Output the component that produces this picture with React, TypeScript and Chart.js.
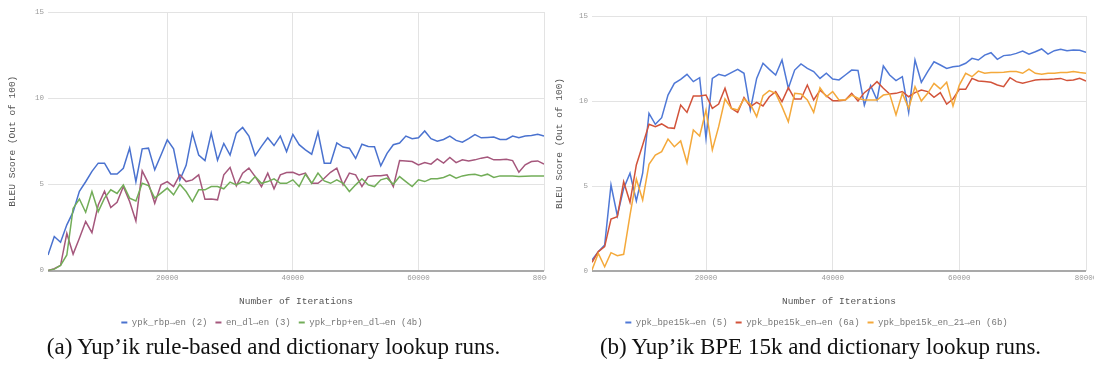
import React, { useEffect, useRef } from "react";
import { Chart, registerables } from "chart.js";

Chart.register(...registerables);

// ---------- DATA ----------
const leftIterations = [
  1000, 2000, 3000, 4000, 5000, 6000, 7000, 8000, 9000, 10000,
  11000, 12000, 13000, 14000, 15000, 16000, 17000, 18000, 19000, 20000,
  21000, 22000, 23000, 24000, 25000, 26000, 27000, 28000, 29000, 30000,
  31000, 32000, 33000, 34000, 35000, 36000, 37000, 38000, 39000, 40000,
  41000, 42000, 43000, 44000, 45000, 46000, 47000, 48000, 49000, 50000,
  51000, 52000, 53000, 54000, 55000, 56000, 57000, 58000, 59000, 60000,
  61000, 62000, 63000, 64000, 65000, 66000, 67000, 68000, 69000, 70000,
  71000, 72000, 73000, 74000, 75000, 76000, 77000, 78000, 79000, 80000,
];

const rbpEn = [
  0.9, 1.97, 1.64, 2.65, 3.4, 4.6, 5.15, 5.75, 6.23, 6.23,
  5.6, 5.6, 5.93, 7.1, 5.15, 7.06, 7.1, 5.84, 6.7, 7.58,
  7.06, 5.25, 6.1, 7.97, 6.7, 6.38, 7.97, 6.4, 7.37, 6.7,
  7.97, 8.3, 7.8, 6.67, 7.2, 7.7, 7.25, 7.8, 6.9, 7.9,
  7.3, 7.0, 6.75, 8.03, 6.23, 6.23, 7.4, 7.16, 7.1, 6.5,
  7.33, 7.2, 7.18, 6.07, 6.8, 7.3, 7.4, 7.8, 7.65, 7.7,
  8.1, 7.65, 7.5, 7.6, 7.8, 7.55, 7.45, 7.65, 7.88, 7.7,
  7.72, 7.74, 7.6, 7.6, 7.8, 7.7, 7.8, 7.84, 7.9, 7.8,
];

const enDlEn = [
  0, 0.1, 0.3, 2.15, 0.95, 1.87, 2.84, 2.2, 3.8, 4.6,
  3.65, 3.96, 4.87, 4.0, 2.87, 5.78, 5.06, 3.9, 4.97, 5.16,
  4.87, 5.55, 5.16, 5.26, 5.55, 4.13, 4.15, 4.1, 5.55, 5.98,
  4.91, 5.65, 5.94, 5.45, 4.87, 5.65, 4.74, 5.55, 5.68, 5.7,
  5.55, 5.65, 5.06, 5.06, 5.35, 5.7, 5.94, 4.97, 5.65, 5.55,
  4.87, 5.45, 5.5, 5.5, 5.55, 4.87, 6.38, 6.36, 6.32, 6.13,
  6.26, 6.17, 6.48, 6.23, 6.56, 6.26, 6.42, 6.36, 6.42, 6.52,
  6.58, 6.42, 6.42, 6.46, 6.38, 5.7, 6.13, 6.32, 6.36, 6.17,
];

const rbpDlEn = [
  0, 0.08, 0.3, 0.9, 3.6, 4.15, 3.38, 4.58, 3.42, 4.2,
  4.68, 4.47, 4.97, 4.2, 4.04, 5.06, 4.93, 4.2, 4.49, 4.78,
  4.39, 5.0, 4.58, 4.0, 4.68, 4.68, 4.87, 4.87, 4.74, 5.13,
  4.97, 5.16, 5.06, 5.45, 5.06, 5.16, 5.32, 5.06, 5.06, 5.26,
  4.87, 5.59, 5.06, 5.65, 5.2, 5.06, 5.26, 5.06, 4.58, 4.97,
  5.32, 4.97, 4.87, 5.26, 5.36, 5.0, 5.45, 5.16, 4.87, 5.26,
  5.16, 5.32, 5.32, 5.4, 5.55, 5.36, 5.49, 5.55, 5.59, 5.49,
  5.59, 5.4, 5.49, 5.49, 5.49, 5.45, 5.47, 5.49, 5.49, 5.49,
];

const rightIterations = [
  2000, 3000, 4000, 5000, 6000, 7000, 8000, 9000, 10000,
  11000, 12000, 13000, 14000, 15000, 16000, 17000, 18000, 19000, 20000,
  21000, 22000, 23000, 24000, 25000, 26000, 27000, 28000, 29000, 30000,
  31000, 32000, 33000, 34000, 35000, 36000, 37000, 38000, 39000, 40000,
  41000, 42000, 43000, 44000, 45000, 46000, 47000, 48000, 49000, 50000,
  51000, 52000, 53000, 54000, 55000, 56000, 57000, 58000, 59000, 60000,
  61000, 62000, 63000, 64000, 65000, 66000, 67000, 68000, 69000, 70000,
  71000, 72000, 73000, 74000, 75000, 76000, 77000, 78000, 79000, 80000,
];

const bpeEn = [
  0.65, 1.14, 1.53, 5.06, 3.25, 4.86, 5.75, 4.12, 5.75, 9.27,
  8.63, 9.02, 10.35, 11.04, 11.27, 11.57, 11.14, 11.37, 7.8, 11.33,
  11.57, 11.47, 11.67, 11.86, 11.63, 9.47, 11.33, 12.22, 11.86, 11.53,
  12.41, 10.75, 11.82, 12.18, 11.92, 11.73, 11.33, 11.63, 11.29, 11.24,
  11.53, 11.82, 11.8, 9.76, 10.9, 10.06, 12.06, 11.53, 11.2, 11.43,
  9.33, 12.41, 11.1, 11.73, 12.31, 12.12, 11.92, 12.02, 12.06, 12.22,
  12.51, 12.41, 12.7, 12.84, 12.45, 12.67, 12.7, 12.8, 12.94, 12.75,
  12.9, 13.06, 12.76, 12.96, 13.04, 12.96, 13.0, 12.98, 12.86,
];

const bpeEnEn = [
  0.51, 1.14, 1.43, 3.06, 3.2, 5.25, 4.04, 6.24, 7.41, 8.63,
  8.49, 8.65, 8.43, 8.39, 9.76, 9.33, 10.29, 10.29, 10.35, 9.57,
  9.82, 10.75, 9.57, 9.33, 10.2, 9.67, 9.92, 9.71, 10.25, 10.55,
  9.96, 10.78, 10.12, 10.12, 10.94, 10.06, 10.63, 10.31, 10.02, 10.02,
  10.06, 10.45, 10.0, 10.49, 10.78, 11.14, 10.75, 10.41, 10.45, 10.55,
  10.25, 10.49, 10.65, 10.55, 10.22, 10.49, 9.82, 10.12, 10.69, 10.69,
  11.33, 11.18, 11.14, 11.1, 10.94, 10.84, 11.37, 11.14, 11.04, 11.14,
  11.24, 11.27, 11.27, 11.29, 11.33, 11.2, 11.24, 11.33, 11.18,
];

const bpeEn21En = [
  0.06, 1.04, 0.25, 1.08, 0.9, 0.98, 3.29, 5.41, 4.18, 6.27,
  6.82, 7.02, 7.76, 7.31, 7.65, 6.37, 8.29, 7.94, 9.47, 7.12,
  8.49, 10.12, 9.57, 9.47, 10.12, 9.82, 9.08, 10.31, 10.61, 10.45,
  9.67, 8.78, 10.45, 10.41, 10.06, 9.33, 10.78, 10.25, 10.55, 10.06,
  10.06, 10.35, 10.16, 10.06, 10.06, 10.06, 10.35, 10.41, 9.18, 10.45,
  9.57, 10.84, 10.0, 10.45, 11.04, 10.71, 11.1, 9.71, 10.94, 11.63,
  11.43, 11.76, 11.63, 11.67, 11.67, 11.69, 11.73, 11.73, 11.63, 11.88,
  11.63, 11.57, 11.63, 11.63, 11.67, 11.67, 11.73, 11.67, 11.63,
];

const leftLabels = ["ypk_rbp→en (2)", "en_dl→en (3)", "ypk_rbp+en_dl→en (4b)"];
const rightLabels = ["ypk_bpe15k→en (5)", "ypk_bpe15k_en→en (6a)", "ypk_bpe15k_en_21→en (6b)"];
const leftColors = ["#4a72cf", "#a5577c", "#72ad58"];
const rightColors = ["#4f78d6", "#d2533a", "#f4a93b"];

const xTicks = [20000, 40000, 60000, 80000];
const yTicks = [0, 5, 10, 15];

const xTitle = "Number of Iterations";
const yTitle = "BLEU Score (Out of 100)";
const captionA = "(a) Yup’ik rule-based and dictionary lookup runs.";
const captionB = "(b) Yup’ik BPE 15k and dictionary lookup runs.";

// ---------- CHART ----------
const MONO = '"Liberation Mono", "Courier New", "DejaVu Sans Mono", monospace';
const CANVAS_W = 547;
const CANVAS_H = 337;

type Props = {
  left: number;
  iterations: number[];
  series: number[][];
  labels: string[];
  colors: string[];
  xMin: number;
  padTop: number;
  padRight: number;
  yAxisWidth: number;
  xAxisHeight: number;
};

function LineChart(p: Props) {
  const ref = useRef<HTMLCanvasElement | null>(null);

  useEffect(() => {
    if (!ref.current) return;
    const datasets = p.series.map((values, si) => ({
      label: p.labels[si],
      data: values.map((v, i) => ({ x: p.iterations[i], y: v })),
      borderColor: p.colors[si],
      backgroundColor: p.colors[si],
      borderWidth: 1.5,
      pointRadius: 0,
      tension: 0,
      order: p.series.length - si,
    }));

    const chart = new Chart(ref.current, {
      type: "line",
      data: { datasets },
      options: {
        animation: false,
        responsive: false,
        devicePixelRatio: 1,
        layout: { padding: { left: 0, right: p.padRight, top: p.padTop, bottom: 0 } },
        plugins: {
          tooltip: { enabled: false },
          legend: {
            position: "bottom",
            align: "center",
            labels: {
              boxWidth: 6,
              boxHeight: 2,
              padding: 8,
              color: "#777",
              font: { family: MONO, size: 9 },
              generateLabels: (c: any) =>
                c.data.datasets.map((ds: any, i: number) => ({
                  text: ds.label,
                  fillStyle: ds.borderColor,
                  strokeStyle: ds.borderColor,
                  lineWidth: 0,
                  hidden: false,
                  datasetIndex: i,
                  fontColor: "#777",
                })),
            },
          },
        },
        scales: {
          x: {
            type: "linear",
            min: p.xMin,
            max: 80000,
            afterBuildTicks: (s: any) => {
              s.ticks = xTicks.map((v) => ({ value: v }));
            },
            afterFit: (s: any) => {
              s.paddingLeft = 0;
              s.paddingRight = 0;
              s.height = p.xAxisHeight;
            },
            border: { display: false },
            grid: { color: "#e3e3e3", lineWidth: 1, drawTicks: false },
            ticks: {
              autoSkip: false,
              maxRotation: 0,
              padding: 3,
              color: "#9a9a9a",
              font: { family: MONO, size: 7.5 },
              callback: (v: any) => String(v),
            },
            title: {
              display: true,
              text: xTitle,
              color: "#555",
              font: { family: MONO, size: 9.5 },
              padding: { top: 0, bottom: 3 },
            },
          },
          y: {
            type: "linear",
            min: 0,
            max: 15,
            afterBuildTicks: (s: any) => {
              s.ticks = yTicks.map((v) => ({ value: v }));
            },
            afterFit: (s: any) => {
              s.width = p.yAxisWidth;
            },
            border: { display: false },
            grid: {
              drawTicks: false,
              color: (ctx: any) => (ctx.tick && ctx.tick.value === 0 ? "#a9a9a9" : "#e3e3e3"),
              lineWidth: (ctx: any) => (ctx.tick && ctx.tick.value === 0 ? 2 : 1),
            },
            ticks: {
              padding: 4,
              color: "#9a9a9a",
              font: { family: MONO, size: 7.5 },
              callback: (v: any) => String(v),
            },
            title: {
              display: true,
              text: yTitle,
              color: "#555",
              font: { family: MONO, size: 9.5 },
              padding: { top: 7, bottom: 0 },
            },
          },
        },
      },
    } as any);
    return () => chart.destroy();
  }, []);

  return (
    <div style={{ position: "absolute", left: p.left, top: 0, width: CANVAS_W, height: CANVAS_H, background: "#fff" }}>
      <canvas ref={ref} width={CANVAS_W} height={CANVAS_H} style={{ display: "block" }} />
    </div>
  );
}

const captionStyle: React.CSSProperties = {
  position: "absolute",
  top: 333,
  width: 547,
  height: 28,
  lineHeight: "28px",
  textAlign: "center",
  fontFamily: '"Liberation Serif", "Times New Roman", serif',
  fontSize: 23,
  color: "#111",
  whiteSpace: "nowrap",
};

export default function App() {
  return (
    <div
      style={{
        position: "fixed",
        left: 0,
        top: 0,
        width: 1094,
        height: 368,
        overflow: "hidden",
        background: "#fff",
      }}
    >
      <LineChart
        left={0}
        iterations={leftIterations}
        series={[rbpEn, enDlEn, rbpDlEn]}
        labels={leftLabels}
        colors={leftColors}
        xMin={1000}
        padTop={12}
        padRight={3}
        yAxisWidth={48}
        xAxisHeight={39.5}
      />
      <LineChart
        left={547}
        iterations={rightIterations}
        series={[bpeEn, bpeEnEn, bpeEn21En]}
        labels={rightLabels}
        colors={rightColors}
        xMin={2000}
        padTop={16}
        padRight={8}
        yAxisWidth={45}
        xAxisHeight={39}
      />
      <div style={{ ...captionStyle, left: 0 }}>{captionA}</div>
      <div style={{ ...captionStyle, left: 547 }}>{captionB}</div>
    </div>
  );
}
